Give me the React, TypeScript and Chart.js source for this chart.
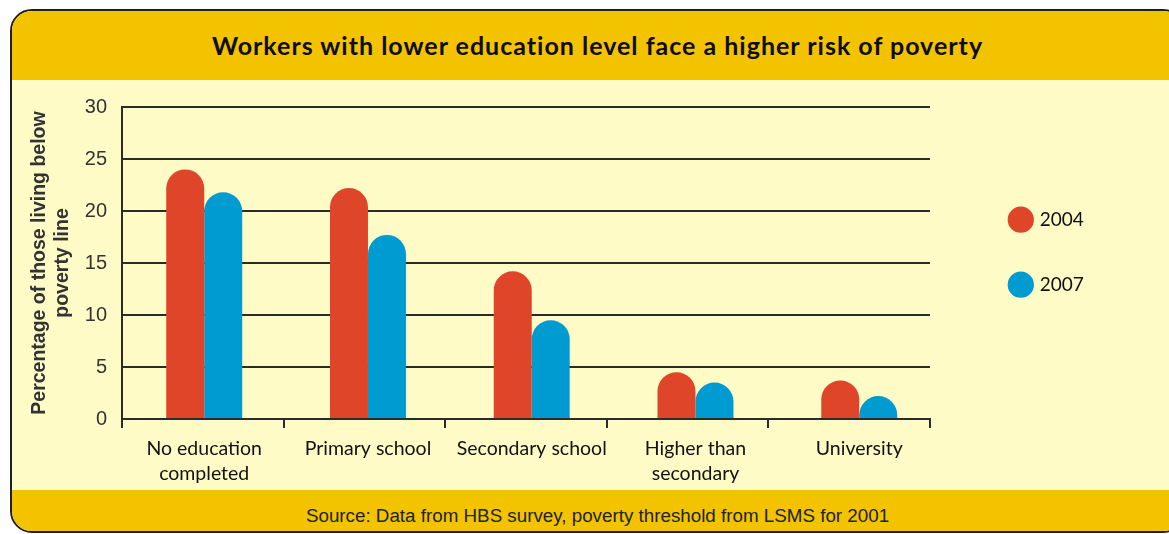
import React, { useEffect, useRef } from 'react';
import { Chart, registerables } from 'chart.js';

Chart.register(...registerables);

// ---- data ----
const categories: (string | string[])[] = [
  ['No education', 'completed'],
  'Primary school',
  'Secondary school',
  ['Higher than', 'secondary'],
  'University',
];
const seriesLabels = ['2004', '2007'];
const values2004 = [24.0, 22.2, 14.2, 4.5, 3.7];
const values2007 = [21.8, 17.7, 9.5, 3.5, 2.2];
const yMin = 0;
const yMax = 30;
const yStep = 5;
// index range of the bar axis (bars in the source sit slightly off the category tick marks)
const barAxisMin = -0.502;
const barAxisMax = 4.432;
const chartTitle = 'Workers with lower education level face a higher risk of poverty';
const yAxisTitle = ['Percentage of those living below', 'poverty line'];
const sourceText = 'Source: Data from HBS survey, poverty threshold from LSMS for 2001';

// ---- styles ----
const RED = '#DF4629';
const BLUE = '#009CD1';
const HEADER = '#F4C300';
const PANEL = '#FFFBC7';
const LINE = '#2b2b2b';

// Draws each bar (positions taken from the library's bar elements) with a fully rounded top.
const roundTopBars = {
  id: 'roundTopBars',
  beforeDatasetDraw(chart: any, args: any) {
    const ctx = chart.ctx;
    ctx.save();
    args.meta.data.forEach((bar: any) => {
      const { x, y, base, width } = bar.getProps(['x', 'y', 'base', 'width'], true);
      const left = x - width / 2;
      const right = x + width / 2;
      const r = Math.max(0, Math.min(width / 2, base - y));
      ctx.beginPath();
      ctx.moveTo(left, base);
      ctx.lineTo(left, y + r);
      ctx.arc(x, y + r, r, Math.PI, 0);
      ctx.lineTo(right, base);
      ctx.closePath();
      ctx.fillStyle = bar.options.backgroundColor;
      ctx.fill();
    });
    ctx.restore();
    return false;
  },
};

export default function App() {
  const canvasRef = useRef<HTMLCanvasElement | null>(null);

  useEffect(() => {
    const canvas = canvasRef.current;
    if (!canvas) return;
    const chart = new Chart(canvas, {
      type: 'bar',
      data: {
        labels: categories as any,
        datasets: [
          {
            label: seriesLabels[0],
            data: values2004.map((v, i) => ({ x: i, y: v })),
            backgroundColor: RED,
            borderWidth: 0,
            xAxisID: 'xBars',
            yAxisID: 'y',
          },
          {
            label: seriesLabels[1],
            data: values2007.map((v, i) => ({ x: i, y: v })),
            backgroundColor: BLUE,
            borderWidth: 0,
            xAxisID: 'xBars',
            yAxisID: 'y',
          },
        ],
      },
      plugins: [roundTopBars],
      options: {
        responsive: false,
        animation: false,
        devicePixelRatio: 1,
        layout: { padding: { top: 25, right: 79.7, left: 0, bottom: 0 } },
        datasets: { bar: { barPercentage: 1, categoryPercentage: 0.464 } },
        plugins: {
          tooltip: { enabled: false },
          title: { display: false },
          legend: {
            position: 'right',
            align: 'start',
            fullSize: false,
            maxWidth: 124,
            title: {
              display: true,
              text: ' ',
              font: { size: 10, lineHeight: 1.2 },
              padding: { top: 22.6, bottom: 22.6 },
            },
            labels: {
              usePointStyle: true,
              pointStyle: 'circle',
              boxHeight: 18.6,
              padding: 46,
              color: '#111',
              font: { family: 'Lato', size: 19 },
            },
          },
        },
        scales: {
          xTicks: {
            type: 'category',
            position: 'bottom',
            offset: true,
            grid: {
              display: true,
              drawOnChartArea: false,
              drawTicks: true,
              tickLength: 9,
              color: LINE,
              lineWidth: 2,
              offset: true,
            },
            border: { display: true, color: LINE, width: 2 },
            ticks: { display: false },
            afterFit: (s: any) => {
              s.height = 0;
            },
          },
          xBars: {
            type: 'linear',
            position: 'bottom',
            offset: false,
            min: barAxisMin,
            max: barAxisMax,
            afterBuildTicks: (s: any) => {
              s.ticks = categories.map((_, i) => ({ value: i }));
            },
            grid: { display: false, offset: false },
            border: { display: false },
            ticks: {
              color: '#111',
              padding: 9,
              maxRotation: 0,
              autoSkip: false,
              font: { family: 'Lato', size: 19.5, lineHeight: 1.28 },
              callback: (v: any) => categories[Math.round(Number(v))],
            },
            afterFit: (s: any) => {
              s.height = 71;
            },
          },
          y: {
            min: yMin,
            max: yMax,
            ticks: {
              stepSize: yStep,
              padding: 15,
              color: '#333',
              font: { family: 'Liberation Sans', size: 20 },
            },
            grid: { color: LINE, lineWidth: 2, drawTicks: false },
            border: { display: true, color: LINE, width: 2 },
            title: {
              display: true,
              text: yAxisTitle,
              color: '#333',
              font: { family: 'Liberation Sans', size: 19.5, weight: 'bold', lineHeight: 1.2 },
              padding: { top: 15.6, bottom: 0 },
            },
            afterFit: (s: any) => {
              s.width = 110;
            },
          },
          yR: {
            type: 'linear',
            position: 'right',
            display: true,
            grid: { display: false, drawTicks: false },
            border: { display: false },
            ticks: { display: false },
            afterFit: (s: any) => {
              s.width = 35.3;
            },
          },
        },
      } as any,
    });
    return () => chart.destroy();
  }, []);

  return (
    <div
      style={{
        position: 'fixed',
        left: 0,
        top: 0,
        width: 1169,
        height: 534,
        overflow: 'hidden',
        background: '#ffffff',
      }}
    >
      <div
        style={{
          position: 'absolute',
          left: 9.5,
          top: 9,
          width: 1175.5,
          height: 524,
          boxSizing: 'border-box',
          border: '2.5px solid #231F20',
          borderRadius: 22,
          overflow: 'hidden',
          background: PANEL,
        }}
      >
        <div style={{ position: 'absolute', left: 0, right: 0, top: 0, height: 68.5, background: HEADER }} />
        <div style={{ position: 'absolute', left: 0, right: 0, top: 478.5, bottom: 0, background: HEADER }} />
      </div>
      <div
        style={{
          position: 'absolute',
          left: 10,
          width: 1175,
          top: 30,
          height: 30,
          lineHeight: '30px',
          textAlign: 'center',
          fontFamily: 'Lato',
          fontWeight: 700,
          fontSize: 25,
          letterSpacing: 1,
          color: '#0d0d0d',
          whiteSpace: 'nowrap',
        }}
      >
        {chartTitle}
      </div>
      <canvas
        ref={canvasRef}
        width={1157}
        height={410}
        style={{ position: 'absolute', left: 12, top: 80, width: 1157, height: 410 }}
      />
      <div
        style={{
          position: 'absolute',
          left: 10,
          width: 1175,
          top: 504.4,
          height: 24,
          lineHeight: '24px',
          textAlign: 'center',
          fontFamily: 'Liberation Sans',
          fontSize: 18.8,
          color: '#222',
          whiteSpace: 'nowrap',
        }}
      >
        {sourceText}
      </div>
    </div>
  );
}
